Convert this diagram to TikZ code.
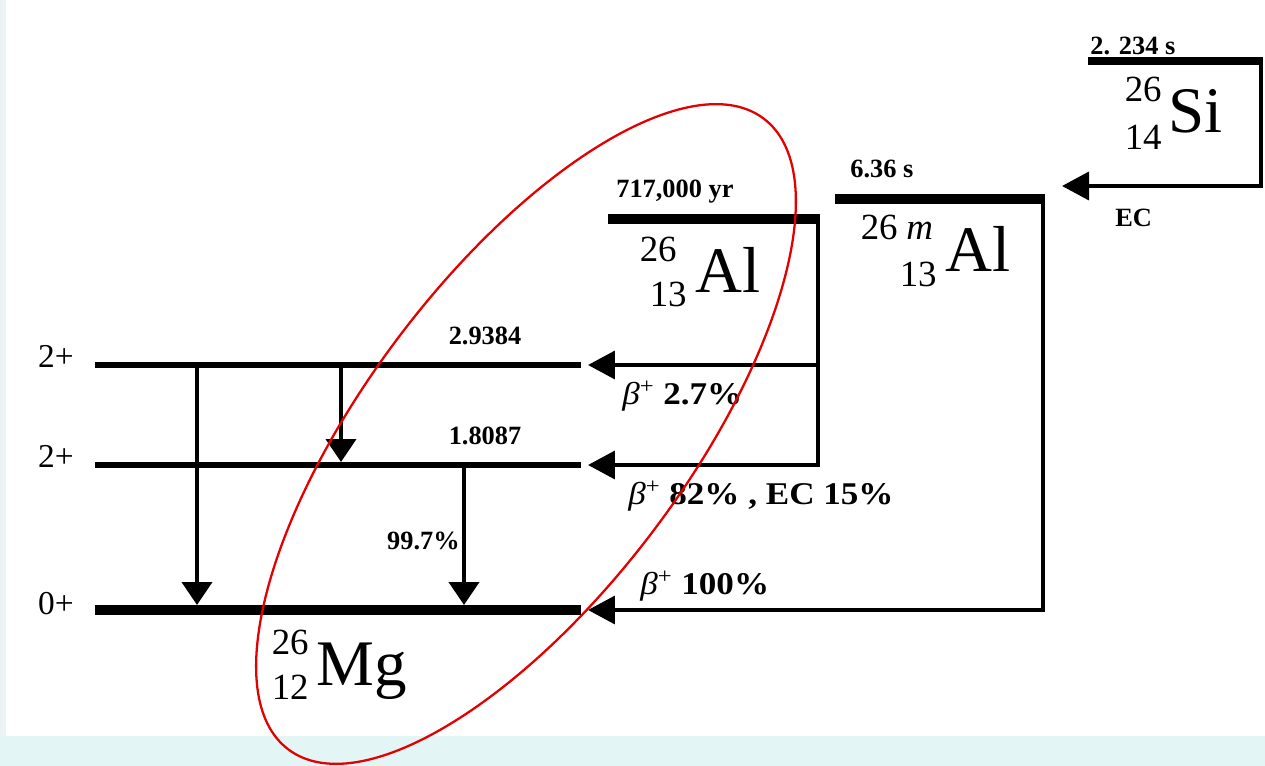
\documentclass[tikz,border=0pt]{standalone}
\usepackage{fontspec}
\setmainfont{Liberation Serif}
\newfontfamily\widefont[FakeStretch=1.11]{Liberation Serif}
\usetikzlibrary{arrows.meta,calc}
\definecolor{strip}{HTML}{E3F6F5}
\definecolor{edgegray}{HTML}{EDF2F2}
\definecolor{ringred}{HTML}{E30000}
\tikzset{
  lvl/.style={line width=3.8pt},
  gslvl/.style={line width=5.7pt},
  toplvl/.style={line width=5.7pt},
  feed/.style={line width=2.1pt, line join=miter,
    -{Triangle[length=0.54cm,width=0.56cm]}, shorten >=0.14cm},
  gam/.style={line width=2.3pt, -{Triangle[length=0.46cm,width=0.6cm]}},
  tag/.style={inner sep=0pt, font=\fontsize{15}{17}\selectfont\bfseries},
  spin/.style={inner sep=0pt, font=\fontsize{19}{21}\selectfont},
  branch/.style={inner sep=0pt, font=\widefont\fontsize{18}{20}\selectfont\bfseries},
  elem/.style={inner sep=0pt, font=\fontsize{37}{40}\selectfont},
  idx/.style={inner sep=0pt, font=\fontsize{21}{23}\selectfont},
  ring/.style={draw=ringred, line width=1.3pt}
}
\newcommand{\bplus}{{\mdseries\itshape β}\textsuperscript{\mdseries +}}

\begin{document}
\begin{tikzpicture}[x=0.02cm, y=-0.02cm]
  \useasboundingbox (0,0) rectangle (1265,766);
  \fill[strip] (0,0) rectangle (1265,766);
  \fill[white] (6,0) rectangle (1265,736);
  \fill[edgegray] (0,0) rectangle (6,736);

  % 26Mg levels
  \coordinate (l2w) at (95,365);  \coordinate (l2e) at (581,365);
  \coordinate (l1w) at (95,465);  \coordinate (l1e) at (581,465);
  \coordinate (l0w) at (95,610);  \coordinate (l0e) at (581,610);
  \draw[lvl] (l2w) -- (l2e);
  \draw[lvl] (l1w) -- (l1e);
  \draw[gslvl] (l0w) -- (l0e);
  \node[spin, anchor=base] (s2) at (56,368) {2+};
  \node[spin, anchor=base] (s1) at (56,468) {2+};
  \node[spin, anchor=base] (s0) at (56,615) {0+};
  \node[tag, anchor=base] (e2) at (485,345) {2.9384};
  \node[tag, anchor=base] (e1) at (485,445) {1.8087};

  % gamma transitions
  \coordinate (g1) at (197,0);
  \coordinate (g2) at (341,0);
  \coordinate (g3) at (464,0);
  \draw[gam, shorten >=0.1cm] (g1 |- l2w) -- (g1 |- l0w);
  \draw[gam, shorten >=0.06cm] (g2 |- l2w) -- (g2 |- l1w);
  \draw[gam, shorten >=0.1cm] (g3 |- l1w) -- (g3 |- l0w);
  \node[tag, anchor=base east] (pg) at (460,550) {99.7\%};

  % 26Mg label
  \node[elem, anchor=base west] (mg) at (316,685) {Mg};
  \node[idx, anchor=base east] (mga) at (309,655) {26};
  \node[idx, anchor=base east] (mgz) at (309,700) {12};

  % 26Al ground state
  \coordinate (alL) at (608,219);
  \coordinate (alR) at (818,219);
  \draw[toplvl] (alL) -- ([xshift=0.04cm]alR);
  \node[tag, anchor=base west] (alt) at (616,198) {717,000 yr};
  \node[elem, anchor=base west] (al) at (695,293) {Al};
  \node[idx, anchor=base east] (ala) at (677,262) {26};
  \node[idx, anchor=base east] (alz) at (687,307) {13};
  \draw[feed] (alR |- l2e) -- (l2e);
  \draw[feed] (alR) -- (alR |- l1e) -- (l1e);
  \node[branch, anchor=base west] (b1) at (622,405) {\bplus\ 2.7\%};
  \node[branch, anchor=base west] (b2) at (628,505) {\bplus\ 82\% , EC 15\%};

  % 26mAl isomer
  \coordinate (amL) at (835,199);
  \coordinate (amR) at (1043,199);
  \draw[toplvl] (amL) -- ([xshift=0.04cm]amR);
  \node[tag, anchor=base west] (amt) at (850,178) {6.36 s};
  \node[elem, anchor=base west] (am) at (945,272) {Al};
  \node[idx, anchor=base east] (ama) at (898,240) {26};
  \node[idx, anchor=base west, font=\fontsize{21}{23}\selectfont\itshape] (amm) at (906,240) {m};
  \node[idx, anchor=base east] (amz) at (937,287) {13};
  \draw[feed] (amR) -- (amR |- l0e) -- (l0e);
  \node[branch, anchor=base west] (b3) at (640,595) {\bplus\ 100\%};

  % 26Si parent
  \coordinate (siL) at (1088,61);
  \coordinate (siR) at (1261,61);
  \coordinate (siEnd) at (1062,186);
  \draw[toplvl, line width=4.6pt] (siL) -- ([xshift=0.04cm]siR);
  \node[tag, anchor=base west] (sit) at (1090,55) {2. 234 s};
  \node[elem, anchor=base west] (si) at (1168,133) {Si};
  \node[idx, anchor=base east] (sia) at (1162,102) {26};
  \node[idx, anchor=base east] (siz) at (1162,150) {14};
  \draw[feed, shorten >=0pt] (siR) -- (siR |- siEnd) -- (siEnd);
  \node[tag, anchor=base west] (ec) at (1115,227) {EC};

  % highlight ring
  \draw[ring, rotate around={53:(526,434)}] (526,434) ellipse [x radius=7.9cm, y radius=3.2cm];
\end{tikzpicture}
\end{document}
